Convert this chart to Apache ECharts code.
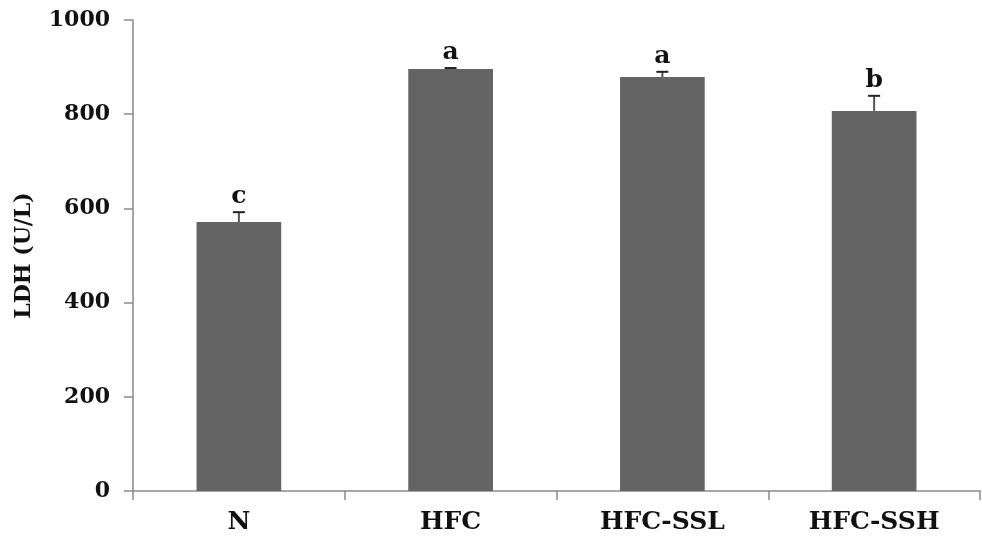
<!DOCTYPE html>
<html>
<head>
<meta charset="utf-8">
<script src="https://cdn.jsdelivr.net/npm/echarts@6/dist/echarts.min.js"></script>
<style>
html,body{margin:0;padding:0;background:#fff;}
#chart{width:982px;height:539px;}
</style>
</head>
<body>
<div id="chart"></div>
<script>
const categories = ['N', 'HFC', 'HFC-SSL', 'HFC-SSH'];
const values = [571, 896, 879, 807];
const errors = [21, 2, 11, 32];
const letters = ['c', 'a', 'a', 'b'];
const yTicks = [0, 200, 400, 600, 800, 1000];

const FONT = '"DejaVu Serif", "Liberation Serif", serif';
const chart = echarts.init(document.getElementById('chart'), null, {renderer: 'canvas'});

const errData = values.map((v, i) => [i, v, v + errors[i], letters[i]]);

chart.setOption({
  animation: false,
  backgroundColor: '#ffffff',
  grid: {left: 133, right: 2, top: 20, bottom: 48, containLabel: false},
  xAxis: {
    type: 'category',
    data: categories,
    axisLine: {show: true, lineStyle: {color: '#8a8a8a', width: 1.5}},
    axisTick: {show: true, alignWithLabel: false, length: 9, lineStyle: {color: '#8a8a8a', width: 1.5}},
    axisLabel: {color: '#111', fontFamily: FONT, fontWeight: 'bold', fontSize: 25, margin: 19}
  },
  yAxis: {
    type: 'value',
    min: 0, max: 1000, interval: 200,
    name: 'LDH (U/L)',
    nameLocation: 'middle',
    nameGap: 98,
    nameRotate: 90,
    nameTextStyle: {color: '#111', fontFamily: FONT, fontWeight: 'bold', fontSize: 22},
    splitLine: {show: false},
    axisLine: {show: true, lineStyle: {color: '#8a8a8a', width: 1.5}},
    axisTick: {show: true, length: 9, lineStyle: {color: '#8a8a8a', width: 1.5}},
    axisLabel: {
      color: '#111', fontFamily: FONT, fontWeight: 'bold', fontSize: 22, margin: 23,
      formatter: v => yTicks.includes(v) ? String(v) : ''
    }
  },
  series: [
    {
      type: 'bar',
      data: values,
      barWidth: '40%',
      itemStyle: {color: '#646464'},
      z: 2
    },
    {
      type: 'custom',
      data: errData,
      z: 3,
      renderItem: function (params, api) {
        const x = api.value(0);
        const base = api.coord([x, api.value(1)]);
        const top = api.coord([x, api.value(2)]);
        const half = 6;
        return {
          type: 'group',
          children: [
            {type: 'line', shape: {x1: base[0], y1: base[1], x2: top[0], y2: top[1]},
              style: {stroke: '#555', lineWidth: 2}},
            {type: 'line', shape: {x1: top[0] - half, y1: top[1], x2: top[0] + half, y2: top[1]},
              style: {stroke: '#222', lineWidth: 2}},
            {type: 'text', x: top[0], y: top[1] - 3,
              style: {text: api.value(3), fill: '#111', font: 'bold 25px ' + FONT,
                align: 'center', verticalAlign: 'bottom'}}
          ]
        };
      }
    }
  ]
});
</script>
</body>
</html>
